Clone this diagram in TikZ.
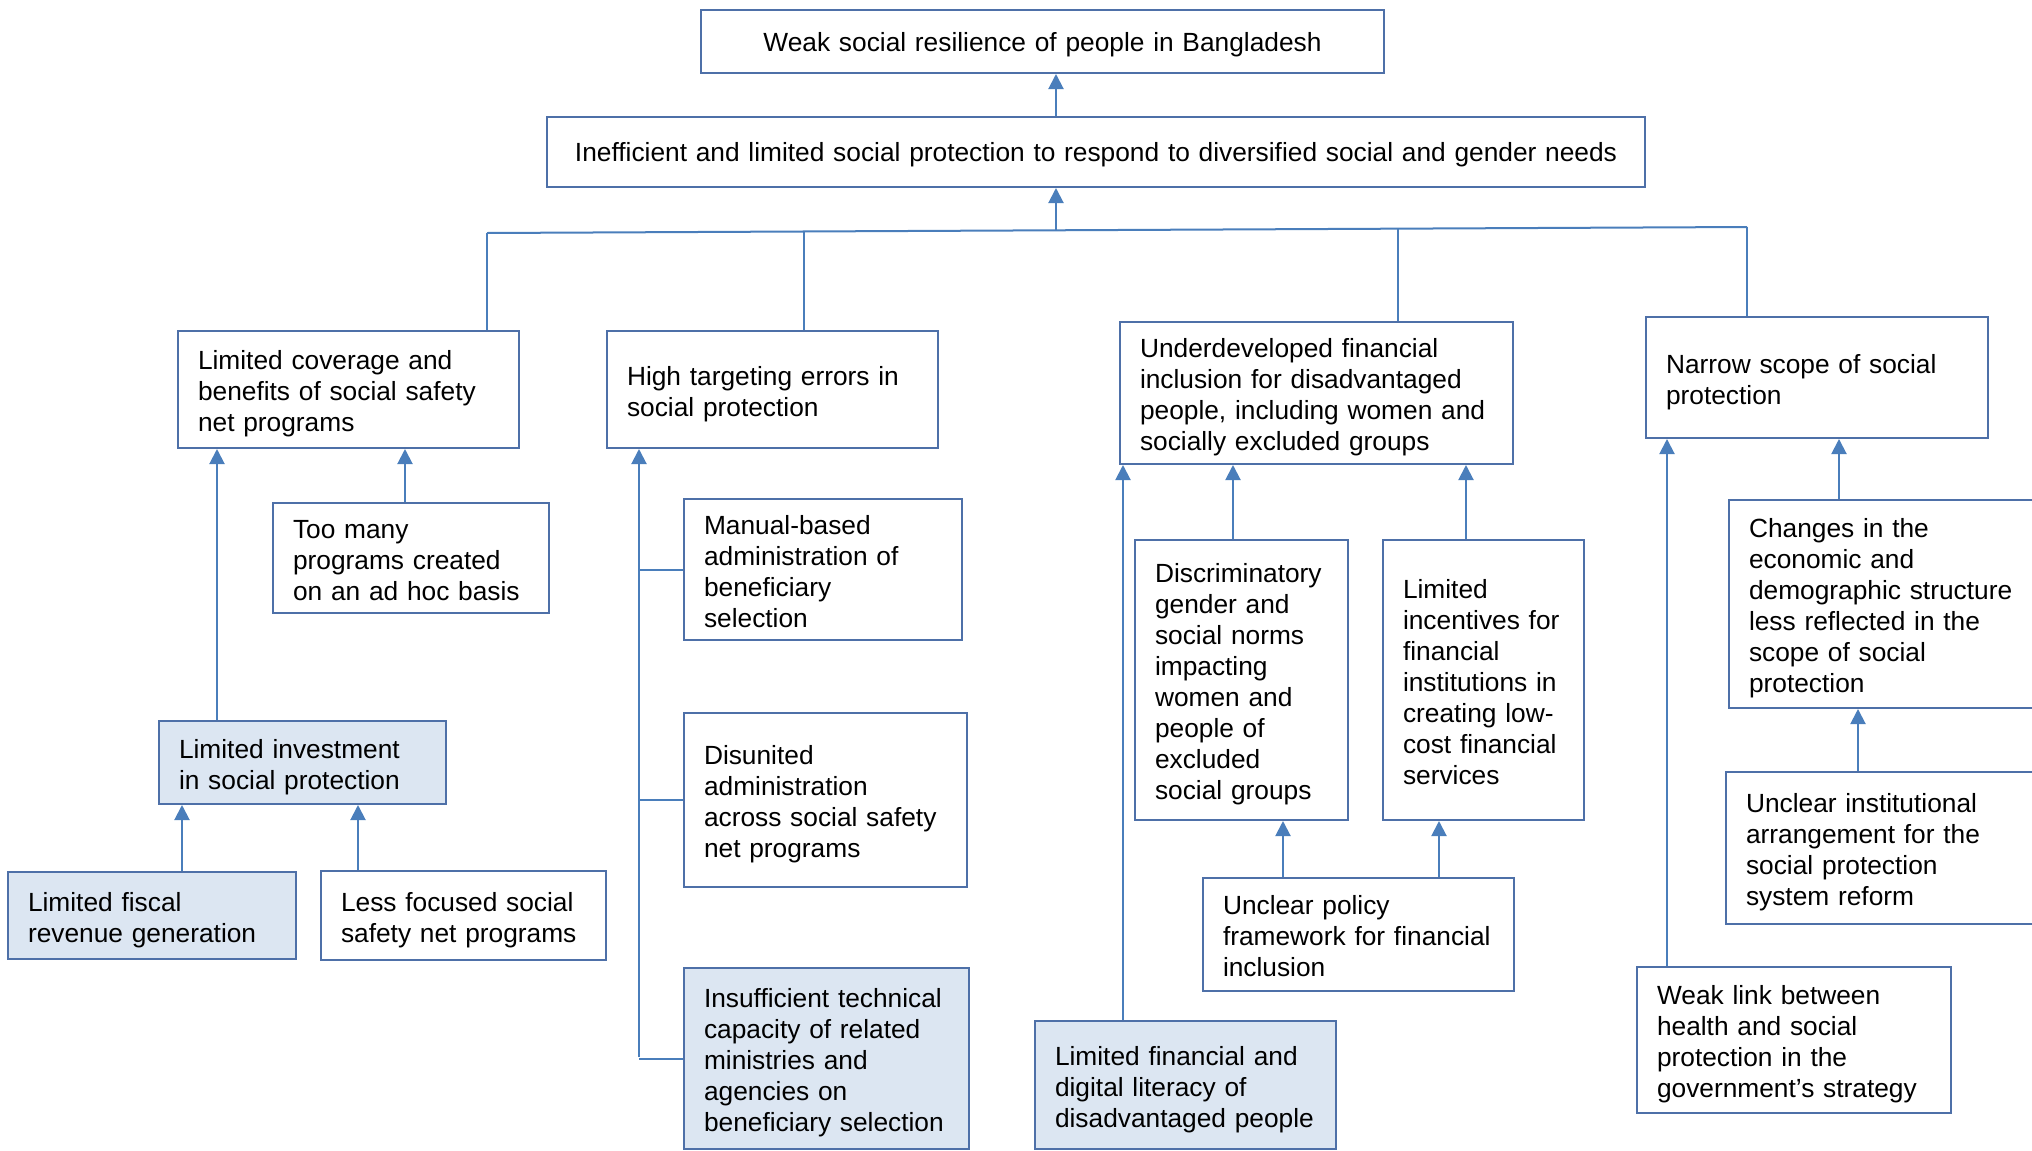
\documentclass[tikz,border=0pt]{standalone}
\usepackage{fontspec}
\setmainfont{Liberation Sans}
\usetikzlibrary{arrows.meta}
\definecolor{lineblue}{RGB}{74,126,187}
\definecolor{boxline}{RGB}{78,112,168}
\definecolor{boxfill}{RGB}{220,230,242}
\newcommand\ls[1]{\raisebox{-0.05cm}[\height][\depth]{\begin{tabular}{@{}l@{}}#1\end{tabular}}}
\newcommand\lc[1]{\raisebox{-0.03cm}[\height][\depth]{#1}}
\newcommand\mkbox[7]{%
 \pgfmathsetmacro\bxh{(#5-#3)*0.01}%
 \pgfmathsetmacro\bxt{(#4-#2)*0.01-0.4}%
 \node[#6, minimum height=\bxh cm, text width=\bxt cm] (#1) at ({(#2+#4)/2},{(#3+#5)/2}) {#7};}
\tikzset{
 box/.style={draw=boxline, line width=0.02cm, fill=white, inner xsep=0.2cm, inner ysep=0pt,
   align=left, font=\fontsize{7.48}{8.82}\selectfont},
 fbox/.style={box, fill=boxfill},
 cbox/.style={box, align=center},
 ln/.style={draw=lineblue, line width=0.02cm},
 arr/.style={ln, -{Triangle[width=0.15cm,length=0.15cm]}}
}
\begin{document}
\begin{tikzpicture}[x=0.01cm,y=-0.01cm]
\useasboundingbox (0,0) rectangle (2032,1151);
\clip (0,0) rectangle (2032,1151);

% top levels
\mkbox{top}{701}{10}{1384}{73}{cbox}{\lc{Weak social resilience of people in Bangladesh}}
\mkbox{mid}{547}{117}{1645}{187}{cbox}{\lc{Inefficient and limited social protection to respond to diversified social and gender needs}}

% level 2
\mkbox{b1}{178}{331}{519}{448}{box}{\ls{Limited coverage and\\benefits of social safety\\net programs}}
\mkbox{b2}{607}{331}{938}{448}{box}{\ls{High targeting errors in\\social protection}}
\mkbox{b3}{1120}{322}{1513}{464}{box}{\ls{Underdeveloped financial\\inclusion for disadvantaged\\people, including women and\\socially excluded groups}}
\mkbox{b4}{1646}{317}{1988}{438}{box}{\ls{Narrow scope of social\\protection}}

% left subtree
\mkbox{many}{273}{503}{549}{613}{box}{\ls{Too many\\programs created\\on an ad hoc basis}}
\mkbox{inv}{159}{721}{446}{804}{fbox}{\ls{Limited investment\\in social protection}}
\mkbox{fiscal}{8}{872}{296}{959}{fbox}{\ls{Limited fiscal\\revenue generation}}
\mkbox{less}{321}{871}{606}{960}{box}{\ls{Less focused social\\safety net programs}}

% targeting subtree
\mkbox{manual}{684}{499}{962}{640}{box}{\ls{Manual-based\\administration of\\beneficiary\\selection}}
\mkbox{disun}{684}{713}{967}{887}{box}{\ls{Disunited\\administration\\across social safety\\net programs}}
\mkbox{insuff}{684}{968}{969}{1149}{fbox}{\ls{Insufficient technical\\capacity of related\\ministries and\\agencies on\\beneficiary selection}}

% financial inclusion subtree
\mkbox{disc}{1135}{540}{1348}{820}{box}{\ls{Discriminatory\\gender and\\social norms\\impacting\\women and\\people of\\excluded\\social groups}}
\mkbox{incent}{1383}{540}{1584}{820}{box}{\ls{Limited\\incentives for\\financial\\institutions in\\creating low-\\cost financial\\services}}
\mkbox{policy}{1203}{878}{1514}{991}{box}{\ls{Unclear policy\\framework for financial\\inclusion}}
\mkbox{lit}{1035}{1021}{1336}{1149}{fbox}{\ls{Limited financial and\\digital literacy of\\disadvantaged people}}

% narrow scope subtree
\mkbox{changes}{1729}{500}{2060}{708}{box}{\ls{Changes in the\\economic and\\demographic structure\\less reflected in the\\scope of social\\protection}}
\mkbox{inst}{1726}{772}{2060}{924}{box}{\ls{Unclear institutional\\arrangement for the\\social protection\\system reform}}
\mkbox{weak}{1637}{967}{1951}{1113}{box}{\ls{Weak link between\\health and social\\protection in the\\government’s strategy}}

% top connectors
\draw[arr] (1056,0 |- mid.north) -- (1056,0 |- top.south);
\coordinate (j1) at (487,233);
\coordinate (j2) at (804,231.5);
\coordinate (jm) at (1056,230.2);
\coordinate (j3) at (1398,228.7);
\coordinate (j4) at (1747,227);
\draw[ln] (j1) -- (j4);
\draw[arr] (jm) -- (jm |- mid.south);
\draw[ln] (j1) -- (j1 |- b1.north);
\draw[ln] (j2) -- (j2 |- b2.north);
\draw[ln] (j3) -- (j3 |- b3.north);
\draw[ln] (j4) -- (j4 |- b4.north);

% left subtree connectors
\draw[arr] (405,0 |- many.north) -- (405,0 |- b1.south);
\draw[arr] (217,0 |- inv.north) -- (217,0 |- b1.south);
\draw[arr] (182,0 |- fiscal.north) -- (182,0 |- inv.south);
\draw[arr] (358,0 |- less.north) -- (358,0 |- inv.south);

% targeting subtree connectors
\coordinate (sp) at (639,1057);
\draw[arr] (sp) -- (sp |- b2.south);
\draw[ln] (sp |- manual.west) -- (manual.west);
\draw[ln] (sp |- disun.west) -- (disun.west);
\draw[ln] (sp |- insuff.west) -- (insuff.west);

% financial subtree connectors
\draw[arr] (1233,0 |- disc.north) -- (1233,0 |- b3.south);
\draw[arr] (1466,0 |- incent.north) -- (1466,0 |- b3.south);
\draw[arr] (1123,0 |- lit.north) -- (1123,0 |- b3.south);
\draw[arr] (1283,0 |- policy.north) -- (1283,0 |- disc.south);
\draw[arr] (1439,0 |- policy.north) -- (1439,0 |- incent.south);

% narrow scope connectors
\draw[arr] (1839,0 |- changes.north) -- (1839,0 |- b4.south);
\draw[arr] (1858,0 |- inst.north) -- (1858,0 |- changes.south);
\draw[arr] (1667,0 |- weak.north) -- (1667,0 |- b4.south);
\end{tikzpicture}
\end{document}
